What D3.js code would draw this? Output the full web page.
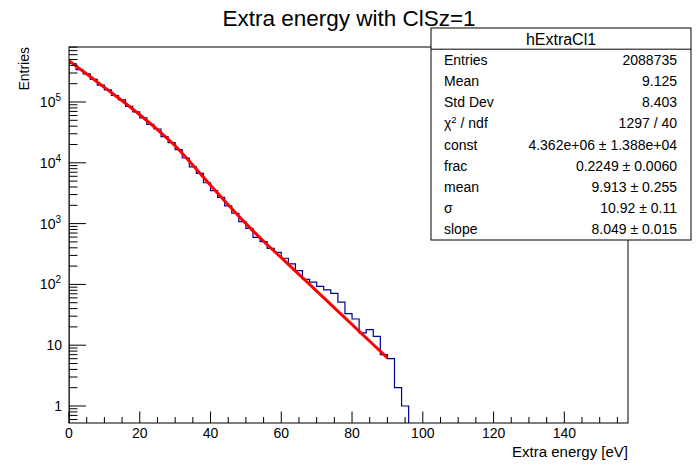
<!doctype html>
<html>
<head>
<script src="https://cdnjs.cloudflare.com/ajax/libs/d3/7.8.5/d3.min.js"></script>
<style>
  body { margin: 0; background: #fff; }
  svg { font-family: "Liberation Sans", Arial, Helvetica, sans-serif; }
  .frame { fill: none; stroke: #000; stroke-width: 1px; }
  .tick { stroke: #000; stroke-width: 1px; }
  .hist { fill: none; stroke: #000099; stroke-width: 1.2px; }
  .fit { fill: none; stroke: #ff0000; stroke-width: 3px; }
</style>
</head>
<body>
<svg id="chart" width="698" height="471"></svg>
<script>
// histogram: 2 eV bins starting at 0
var binWidth = 2;
var binCounts = [430000, 340000, 290000, 236000, 190000, 158000, 128000, 108000,
  85000, 69000, 55000, 43000, 36000, 27000, 21500, 16500, 12000, 8600, 6700, 4700,
  3500, 2700, 1950, 1480, 1074, 837, 595, 504, 392, 337, 269, 217, 168, 121, 109,
  93, 81, 71, 51, 33, 27, 16, 18, 14, 7, 6, 2, 1];

// fit curve
var fitX = [0, 5, 10, 15, 20, 25, 30, 35, 40, 45, 50, 55, 60, 65, 70, 75, 80, 85, 90];
var fitY = [478600, 288400, 173800, 104700, 61660, 35080, 19050, 9120, 4266, 2042,
  1000, 513, 275, 146, 77.6, 41.2, 21.9, 11.6, 6.2];

var xTicks = [0, 20, 40, 60, 80, 100, 120, 140];
var yTicks = [1, 10, 100, 1000, 10000, 100000];
var yExp = [null, null, "2", "3", "4", "5"];

var statLabels = ["Entries", "Mean", "Std Dev", "chi", "const", "frac", "mean", "\u03c3", "slope"];
var statValues = ["2088735", "9.125", "8.403", "1297 / 40", "4.362e+06 \u00b1 1.388e+04",
  "0.2249 \u00b1 0.0060", "9.913 \u00b1 0.255", "10.92 \u00b1 0.11", "8.049 \u00b1 0.015"];

var svg = d3.select("#chart");
var L = 69, R = 628, T = 47, B = 423;

var x = d3.scaleLinear().domain([0, 158]).range([L, R]);
var y = d3.scaleLog().domain([0.5253, 803000]).range([B, T]);

svg.append("rect").attr("width", 698).attr("height", 471).attr("fill", "#fff");

svg.append("clipPath").attr("id", "clip")
  .append("rect").attr("x", L).attr("y", T).attr("width", R - L).attr("height", B - T);

// histogram as steps
var pts = [[x(0), B]];
binCounts.forEach(function(c, i) {
  var yy = c > 0 ? y(c) : B;
  pts.push([x(i * binWidth), yy]);
  pts.push([x((i + 1) * binWidth), yy]);
});
pts.push([x(binCounts.length * binWidth), B]);

var g = svg.append("g").attr("clip-path", "url(#clip)");
g.append("path").attr("class", "hist").attr("d", d3.line()(pts));

var fitPts = fitX.map((v, i) => [x(v), y(fitY[i])]);
g.append("path").attr("class", "fit")
  .attr("d", d3.line().curve(d3.curveMonotoneX)(fitPts));

svg.append("rect").attr("class", "frame")
  .attr("x", L).attr("y", T).attr("width", R - L).attr("height", B - T);

// x ticks
d3.range(0, 158, 5).forEach(function(v) {
  var major = v % 20 === 0;
  svg.append("line").attr("class", "tick")
    .attr("x1", x(v)).attr("x2", x(v))
    .attr("y1", B).attr("y2", B - (major ? 11.5 : 6));
});
svg.selectAll("text.xl").data(xTicks).enter().append("text")
  .attr("class", "xl")
  .attr("x", d => x(d)).attr("y", 438)
  .attr("text-anchor", "middle").attr("font-size", 14)
  .text(d => d);

// y ticks (log)
for (var k = -1; k <= 5; k++) {
  for (var m = 1; m <= 9; m++) {
    var v = m * Math.pow(10, k);
    if (v < 0.5253 || v > 803000) continue;
    svg.append("line").attr("class", "tick")
      .attr("x1", L).attr("x2", L + (m === 1 ? 17 : 8.5))
      .attr("y1", y(v)).attr("y2", y(v));
  }
}
yTicks.forEach(function(v, i) {
  var t = svg.append("text")
    .attr("x", 62).attr("y", y(v) + 5)
    .attr("text-anchor", "end").attr("font-size", 14);
  if (yExp[i] === null) {
    t.text(v);
  } else {
    t.attr("x", 61);
    t.append("tspan").text("10");
    t.append("tspan").attr("font-size", 10).attr("dy", -6).text(yExp[i]);
  }
});

// axis titles
svg.append("text").attr("x", R).attr("y", 457)
  .attr("text-anchor", "end").attr("font-size", 15)
  .text("Extra energy [eV]");
svg.append("text")
  .attr("transform", "translate(29," + T + ") rotate(-90)")
  .attr("text-anchor", "end").attr("font-size", 14)
  .text("Entries");

// title
svg.append("text").attr("x", 349).attr("y", 26)
  .attr("text-anchor", "middle").attr("font-size", 22.5)
  .text("Extra energy with ClSz=1");

// stats box
var bx = 431, by = 28, bw = 260, bh = 212;
var rowH = bh / 10;
svg.append("rect").attr("x", bx).attr("y", by).attr("width", bw).attr("height", bh)
  .attr("fill", "#fff").attr("stroke", "#000");
svg.append("line").attr("x1", bx).attr("x2", bx + bw)
  .attr("y1", by + rowH).attr("y2", by + rowH).attr("stroke", "#000");
svg.append("text").attr("x", bx + bw / 2).attr("y", by + rowH / 2 + 6)
  .attr("text-anchor", "middle").attr("font-size", 16)
  .text("hExtraCl1");

statLabels.forEach(function(s, i) {
  var yy = by + rowH * (i + 1.5) + 5;
  var t = svg.append("text").attr("x", bx + 13).attr("y", yy).attr("font-size", 14);
  if (s === "chi") {
    t.append("tspan").text("\u03c7");
    t.append("tspan").attr("font-size", 9.5).attr("dy", -5).text("2");
    t.append("tspan").attr("dy", 5).text(" / ndf");
  } else {
    t.text(s);
  }
  svg.append("text").attr("x", bx + bw - 14).attr("y", yy)
    .attr("text-anchor", "end").attr("font-size", 14)
    .text(statValues[i]);
});
</script>
</body>
</html>
